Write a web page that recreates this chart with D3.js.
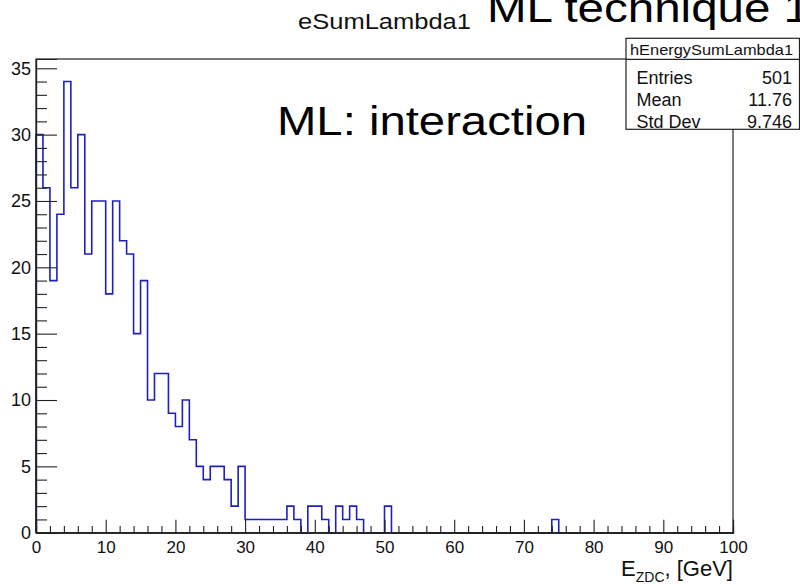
<!DOCTYPE html>
<html>
<head>
<meta charset="utf-8">
<script src="https://cdn.jsdelivr.net/npm/d3@7"></script>
<style>
  html, body { margin: 0; padding: 0; background: #fff; }
  svg { display: block; font-family: "Liberation Sans", Arial, Helvetica, sans-serif; }
</style>
</head>
<body>
<svg id="chart" width="800" height="584"></svg>
<script>
// Histogram hEnergySumLambda1: 100 bins of 1 GeV from 0 to 100
const binLow = d3.range(0, 100);
const counts = [
  30, 26, 19, 24, 34, 26, 30, 21, 25, 25,
  18, 25, 22, 21, 15, 19, 10, 12, 12, 9,
  8, 10, 7, 5, 4, 5, 5, 4, 2, 5,
  1, 1, 1, 1, 1, 1, 2, 1, 0, 2,
  2, 1, 0, 2, 1, 2, 1, 0, 0, 0,
  2, 0, 0, 0, 0, 0, 0, 0, 0, 0,
  0, 0, 0, 0, 0, 0, 0, 0, 0, 0,
  0, 0, 0, 0, 1, 0, 0, 0, 0, 0,
  0, 0, 0, 0, 0, 0, 0, 0, 0, 0,
  0, 0, 0, 0, 0, 0, 0, 0, 0, 0
];
const xMajorTicks = [0, 10, 20, 30, 40, 50, 60, 70, 80, 90, 100];
const yMajorTicks = [0, 5, 10, 15, 20, 25, 30, 35];
const statNames = ["Entries", "Mean", "Std Dev"];
const statValues = ["501", "11.76", "9.746"];

const svg = d3.select("#chart");
const frame = { left: 36, right: 733, top: 59, bottom: 532.7 };

const x = d3.scaleLinear().domain([0, 100]).range([frame.left, frame.right]);
const y = d3.scaleLinear().domain([0, 35.7]).range([frame.bottom, frame.top]);

// Step outline of the histogram
const pts = [[x(0), y(0)]];
binLow.forEach((lo, i) => {
  pts.push([x(lo), y(counts[i])]);
  pts.push([x(lo + 1), y(counts[i])]);
});
pts.push([x(100), y(0)]);
svg.append("path")
  .attr("d", d3.line()(pts))
  .attr("fill", "none")
  .attr("stroke", "#1f1fc0")
  .attr("stroke-width", 1.6);

// Frame
svg.append("rect")
  .attr("x", frame.left).attr("y", frame.top)
  .attr("width", frame.right - frame.left)
  .attr("height", frame.bottom - frame.top)
  .attr("fill", "none")
  .attr("stroke", "#222")
  .attr("stroke-width", 1.2);

// X axis: major + minor ticks pointing inward
const xMinor = d3.range(0, 101, 2).filter(v => v % 10 !== 0);
const gx = svg.append("g").attr("transform", `translate(0,${frame.bottom})`);
gx.call(d3.axisBottom(x).tickValues(xMajorTicks).tickSize(-13).tickPadding(8).tickFormat(d3.format("d")));
gx.append("g").call(d3.axisBottom(x).tickValues(xMinor).tickSize(-6.7).tickFormat(""));
gx.selectAll("text").attr("font-size", 17).attr("fill", "#111").attr("font-family", "Liberation Sans, Arial, sans-serif");

// Y axis
const yMinor = d3.range(0, 36, 1).filter(v => v % 5 !== 0);
const gy = svg.append("g").attr("transform", `translate(${frame.left},0)`);
gy.call(d3.axisLeft(y).tickValues(yMajorTicks).tickSize(-21).tickPadding(5).tickFormat(d3.format("d")));
gy.append("g").call(d3.axisLeft(y).tickValues(yMinor).tickSize(-11).tickFormat(""));
gy.selectAll("text").attr("font-size", 18).attr("fill", "#111").attr("font-family", "Liberation Sans, Arial, sans-serif");

svg.selectAll(".domain").attr("stroke", "#222").attr("stroke-width", 1.2);
svg.selectAll(".tick line").attr("stroke", "#222").attr("stroke-width", 1.1);

// X axis title with subscript
const xt = svg.append("text")
  .attr("x", frame.right).attr("y", 576)
  .attr("text-anchor", "end")
  .attr("font-size", 22)
  .attr("fill", "#111");
xt.append("tspan").text("E");
xt.append("tspan").attr("font-size", 14).attr("dy", 6).text("ZDC");
xt.append("tspan").attr("dy", -6).text(", [GeV]");

// Histogram title
svg.append("text")
  .attr("x", 298).attr("y", 29)
  .attr("font-size", 22)
  .attr("textLength", 173).attr("lengthAdjust", "spacingAndGlyphs")
  .attr("fill", "#111")
  .text("eSumLambda1");

// Large annotations
svg.append("text")
  .attr("x", 487).attr("y", 22)
  .attr("font-size", 40)
  .attr("textLength", 323).attr("lengthAdjust", "spacingAndGlyphs")
  .attr("fill", "#000")
  .text("ML technique 1");

svg.append("text")
  .attr("x", 277).attr("y", 135)
  .attr("font-size", 40)
  .attr("textLength", 310).attr("lengthAdjust", "spacingAndGlyphs")
  .attr("fill", "#000")
  .text("ML: interaction");

// Statistics box
const box = { left: 626, top: 38.3, right: 799.5, header: 59.3, bottom: 129.3 };
svg.append("rect")
  .attr("x", box.left).attr("y", box.top)
  .attr("width", box.right - box.left).attr("height", box.bottom - box.top)
  .attr("fill", "#fff").attr("stroke", "#222").attr("stroke-width", 1.2);
svg.append("line")
  .attr("x1", box.left).attr("x2", box.right)
  .attr("y1", box.header).attr("y2", box.header)
  .attr("stroke", "#222").attr("stroke-width", 1.2);
svg.append("text")
  .attr("x", 630).attr("y", 54.5)
  .attr("font-size", 15)
  .attr("textLength", 163).attr("lengthAdjust", "spacingAndGlyphs")
  .attr("fill", "#111")
  .text("hEnergySumLambda1");

const rowY = d3.scalePoint().domain(statNames).range([83.5, 128]);
statNames.forEach((name, i) => {
  svg.append("text")
    .attr("x", 636.5).attr("y", rowY(name))
    .attr("font-size", 18).attr("fill", "#111")
    .text(name);
  svg.append("text")
    .attr("x", 792).attr("y", rowY(name))
    .attr("text-anchor", "end")
    .attr("font-size", 18).attr("fill", "#111")
    .text(statValues[i]);
});
</script>
</body>
</html>
